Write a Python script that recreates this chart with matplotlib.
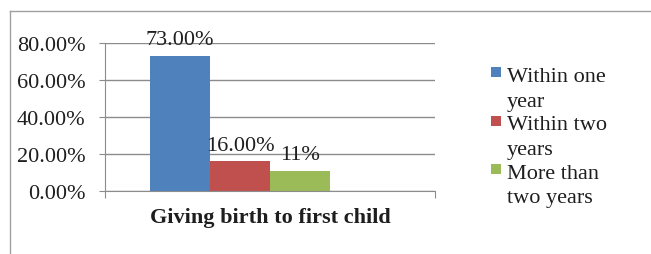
import matplotlib.pyplot as plt
from matplotlib.lines import Line2D
from matplotlib.patches import Rectangle

plt.rcParams['font.family'] = ['Liberation Serif', 'DejaVu Serif']

# data
category = 'Giving birth to first child'
series = ['Within one\nyear', 'Within two\nyears', 'More than\ntwo years']
values = [73.0, 16.0, 11.0]
labels = ['73.00%', '16.00%', '11%']
colors = ['#4F81BD', '#C0504D', '#9BBB59']
yticks = [0, 20, 40, 60, 80]

W, H = 651, 255
fig = plt.figure(figsize=(W / 100, H / 100), dpi=100)
ax = fig.add_axes([105 / W, 1 - 192 / H, 330 / W, 148 / H])
txt = '#1e1e1e'
fs = 16

w = 60 / 330
for i, (v, c, lab) in enumerate(zip(values, colors, labels)):
    x = (i - 1.5) * w
    ax.bar(x, v, width=w, color=c, zorder=2)
    ax.annotate(lab, (x, v), xytext=(0, 8.5), textcoords='offset points',
                ha='center', va='baseline', fontsize=fs, color=txt)

ax.set_xlim(-0.5, 0.5)
ax.set_ylim(0, 80)
ax.set_yticks(yticks)
ax.set_yticklabels([f'{t:.2f}%' for t in yticks], fontsize=fs, color=txt)
ax.yaxis.grid(True, color='#8c8c8c', linewidth=1, zorder=0)
ax.set_xticks([-0.5, 0.5])
ax.set_xticklabels(['', ''])
ax.tick_params(axis='y', length=4, color='#8c8c8c', pad=10)
ax.tick_params(axis='x', length=5, color='#8c8c8c')
for s in ['top', 'right']:
    ax.spines[s].set_visible(False)
for s in ['left', 'bottom']:
    ax.spines[s].set_color('#8c8c8c')
fig.text(270 / W, 1 - 223 / H, category, ha='center', va='baseline',
         fontsize=fs, fontweight='bold', color=txt)

# legend drawn by hand so the swatch sits on the first line
for i, (name, c) in enumerate(zip(series, colors)):
    base = 82 + 48.5 * i
    fig.add_artist(Rectangle((491 / W, 1 - (base - 4) / H), 10 / W, 10 / H,
                             transform=fig.transFigure, facecolor=c,
                             edgecolor='none'))
    for j, line in enumerate(name.split('\n')):
        fig.text(507 / W, 1 - (base + 24.5 * j) / H, line, ha='left',
                 va='baseline', fontsize=fs, color=txt)

# outer border
fig.add_artist(Line2D([10 / W, 1], [1 - 12 / H, 1 - 12 / H],
                      transform=fig.transFigure, color='#a0a0a0', linewidth=1))
fig.add_artist(Line2D([10 / W, 10 / W], [0, 1 - 12 / H],
                      transform=fig.transFigure, color='#a0a0a0', linewidth=1))

fig.savefig('out.png', dpi=100)
